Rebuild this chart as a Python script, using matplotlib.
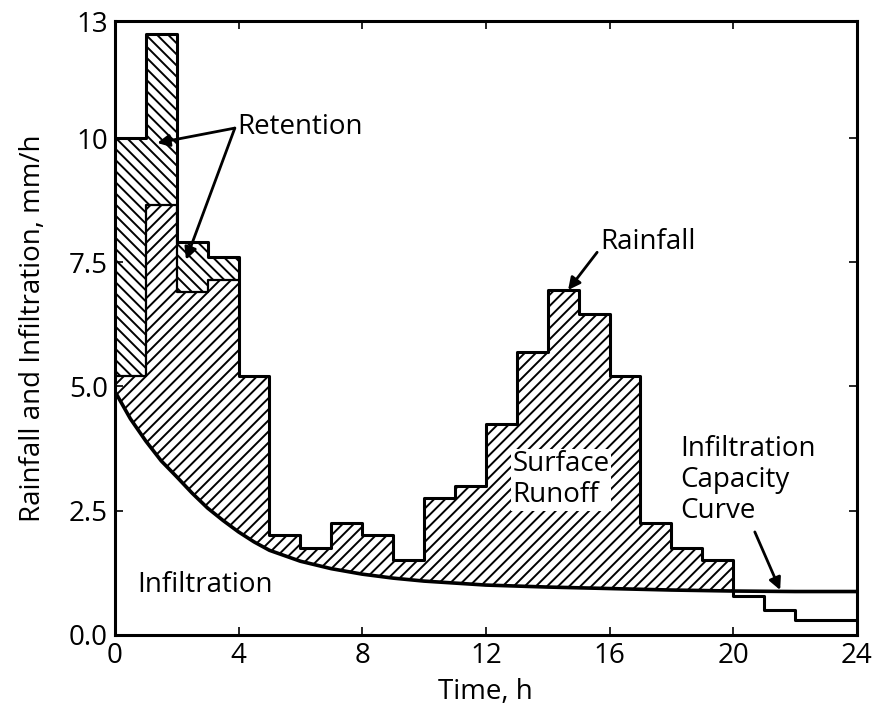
import numpy as np
import matplotlib
matplotlib.use("Agg")
import matplotlib.pyplot as plt

# Datos (intensidades horarias, mm/h)
horas = np.arange(0, 25)
lluvia = [10.0, 12.1, 7.9, 7.6, 5.2, 2.0, 1.75, 2.25, 2.0, 1.5, 2.75, 3.0,
          4.25, 5.7, 6.95, 6.45, 5.2, 2.25, 1.75, 1.5, 0.78, 0.5, 0.3, 0.3]
# lluvia menos retencion en las primeras 4 horas
lluvia_sin_retencion = [5.2, 8.65, 6.9, 7.15]

# curva de capacidad de infiltracion
curva_t = [0, 0.5, 1, 1.5, 2, 2.5, 3, 3.5, 4, 4.5, 5, 6, 7, 8, 9, 10,
           12, 14, 16, 18, 20, 22, 24]
curva_f = [4.9, 4.35, 3.9, 3.5, 3.18, 2.85, 2.55, 2.3, 2.07, 1.87, 1.7, 1.48,
           1.33, 1.22, 1.14, 1.08, 1.0, 0.96, 0.93, 0.9, 0.88, 0.87, 0.87]

y_ticks = [0, 2.5, 5.0, 7.5, 10, 12.35]
y_labels = ["0.0", "2.5", "5.0", "7.5", "10", "13"]
x_ticks = [0, 4, 8, 12, 16, 20, 24]


# convierte valores horarios en una serie escalonada fina
def escalon(valores):
    t = []
    v = []
    for i, val in enumerate(valores):
        t.append(np.linspace(i, i + 1, 40))
        v.append(np.full(40, val))
    return np.concatenate(t), np.concatenate(v)


def crear_grafica():
    plt.rcParams['font.family'] = ['Open Sans', 'DejaVu Sans']
    plt.rcParams['hatch.color'] = 'black'
    plt.rcParams['hatch.linewidth'] = 1.4

    fig = plt.figure(figsize=(8.77, 7.10), dpi=100)
    fig.subplots_adjust(left=0.131, right=0.977, bottom=0.106, top=0.970)
    ax = fig.add_subplot(111)

    t_fino, lluvia_fina = escalon(lluvia)
    _, interior_fino = escalon(lluvia_sin_retencion + lluvia[4:])
    curva_fina = np.interp(t_fino, curva_t, curva_f)

    # escorrentia superficial
    ax.fill_between(t_fino, curva_fina, interior_fino,
                    where=interior_fino > curva_fina, interpolate=True,
                    facecolor='none', edgecolor='black', linewidth=0,
                    hatch='///')
    # retencion
    ax.fill_between(t_fino, interior_fino, lluvia_fina,
                    where=lluvia_fina > interior_fino,
                    facecolor='none', edgecolor='black', linewidth=0,
                    hatch='\\\\\\')

    ax.step(horas, lluvia + [lluvia[-1]], where='post', color='black', lw=2.2)
    ax.step(horas[:5], lluvia_sin_retencion + [lluvia_sin_retencion[-1]],
            where='post', color='black', lw=1.6)
    ax.plot(curva_t, curva_f, color='black', lw=2.6)

    flecha = dict(arrowstyle='-|>', color='black', lw=2, mutation_scale=18,
                  shrinkA=0, shrinkB=0)
    ax.annotate('', xy=(1.37, 9.9), xytext=(3.88, 10.2), arrowprops=flecha)
    ax.annotate('', xy=(2.3, 7.55), xytext=(3.88, 10.2), arrowprops=flecha)
    ax.text(3.95, 10.22, 'Retention', fontsize=20, ha='left', va='center')

    ax.annotate('', xy=(14.66, 6.94), xytext=(15.6, 7.7), arrowprops=flecha)
    ax.text(15.7, 7.9, 'Rainfall', fontsize=20, ha='left', va='center')

    ax.text(12.85, 3.12, 'Surface\nRunoff', fontsize=20, ha='left',
            va='center', linespacing=1.15,
            bbox=dict(facecolor='white', edgecolor='none', pad=1))

    ax.text(18.28, 3.12, 'Infiltration\nCapacity\nCurve', fontsize=20,
            ha='left', va='center', linespacing=1.15)
    ax.annotate('', xy=(21.52, 0.9), xytext=(20.7, 2.07), arrowprops=flecha)

    ax.text(0.71, 1.0, 'Infiltration', fontsize=20, ha='left', va='center')

    ax.set_xlim(0, 24)
    ax.set_ylim(0, 12.35)
    ax.set_xticks(x_ticks)
    ax.set_yticks(y_ticks)
    ax.set_yticklabels(y_labels)
    ax.tick_params(direction='in', length=6, width=1.2, top=True, right=True,
                   labelsize=20, pad=5)
    for s in ax.spines.values():
        s.set_linewidth(2.2)

    ax.set_xlabel('Time, h', fontsize=20, labelpad=6)
    ax.set_ylabel('Rainfall and Infiltration, mm/h', fontsize=20, labelpad=16)

    fig.savefig('out.png', dpi=100)


def main():
    crear_grafica()


if __name__ == "__main__":
    main()
